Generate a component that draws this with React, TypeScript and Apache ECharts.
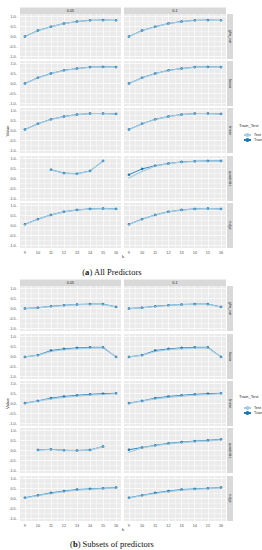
import React, { useEffect, useRef } from "react";
import * as echarts from "echarts";

// ---------- data ----------
const kValues = [9, 10, 11, 12, 13, 14, 15, 16];
const columnLabels = ["0.05", "0.1"];
const rowLabels = ["glm_cor", "lasso", "linear", "quadratic", "ridge"];
const legendTitle = "Train_Test";
const seriesNames = ["Test", "Train"];
const captionA = ["a", ") All Predictors"];
const captionB = ["b", ") Subsets of predictors"];

// (a) All predictors
const aGlmCorTrain = [0.0, 0.3, 0.49, 0.65, 0.75, 0.81, 0.82, 0.81];
const aGlmCorTest = [0.0, 0.29, 0.48, 0.64, 0.74, 0.8, 0.81, 0.8];
const aLassoTrain = [0.0, 0.29, 0.5, 0.66, 0.75, 0.82, 0.83, 0.82];
const aLassoTest = [-0.01, 0.28, 0.49, 0.65, 0.74, 0.81, 0.82, 0.81];
const aLinearTrain = [0.05, 0.34, 0.56, 0.7, 0.8, 0.85, 0.85, 0.83];
const aLinearTest = [0.04, 0.33, 0.55, 0.69, 0.79, 0.84, 0.84, 0.82];
const aQuadLeftTrain = [null, null, 0.44, 0.27, 0.24, 0.38, 0.88, null];
const aQuadLeftTest = [null, null, 0.43, 0.26, 0.23, 0.37, 0.87, null];
const aQuadRightTrain = [0.19, 0.48, 0.64, 0.75, 0.83, 0.86, 0.88, 0.88];
const aQuadRightTest = [0.03, 0.35, 0.62, 0.74, 0.82, 0.85, 0.87, 0.87];
const aRidgeTrain = [0.06, 0.32, 0.53, 0.69, 0.78, 0.83, 0.85, 0.83];
const aRidgeTest = [0.05, 0.31, 0.52, 0.68, 0.77, 0.82, 0.84, 0.82];

// (b) Subsets of predictors
const bGlmCorTrain = [0.0, 0.04, 0.11, 0.16, 0.2, 0.22, 0.22, 0.08];
const bGlmCorTest = [-0.01, 0.03, 0.1, 0.15, 0.19, 0.21, 0.21, 0.07];
const bLassoTrain = [-0.02, 0.07, 0.3, 0.38, 0.43, 0.46, 0.46, -0.02];
const bLassoTest = [-0.02, 0.06, 0.25, 0.34, 0.39, 0.42, 0.43, -0.03];
const bLinearTrain = [0.02, 0.13, 0.27, 0.35, 0.41, 0.46, 0.49, 0.51];
const bLinearTest = [0.01, 0.12, 0.23, 0.31, 0.37, 0.42, 0.45, 0.49];
const bQuadLeftTrain = [null, 0.03, 0.06, 0.01, 0.0, 0.03, 0.2, null];
const bQuadLeftTest = [null, 0.02, 0.05, 0.0, -0.01, 0.02, 0.19, null];
const bQuadRightTrain = [0.04, 0.15, 0.26, 0.36, 0.42, 0.47, 0.51, 0.56];
const bQuadRightTest = [-0.09, 0.13, 0.24, 0.33, 0.39, 0.44, 0.48, 0.53];
const bRidgeTrain = [0.04, 0.16, 0.28, 0.37, 0.45, 0.48, 0.51, 0.55];
const bRidgeTest = [0.02, 0.14, 0.25, 0.34, 0.42, 0.46, 0.49, 0.53];

type Pair = { Test: (number | null)[]; Train: (number | null)[] };
type Row = [Pair, Pair];

const figureA: Row[] = [
  [{ Test: aGlmCorTest, Train: aGlmCorTrain }, { Test: aGlmCorTest, Train: aGlmCorTrain }],
  [{ Test: aLassoTest, Train: aLassoTrain }, { Test: aLassoTest, Train: aLassoTrain }],
  [{ Test: aLinearTest, Train: aLinearTrain }, { Test: aLinearTest, Train: aLinearTrain }],
  [{ Test: aQuadLeftTest, Train: aQuadLeftTrain }, { Test: aQuadRightTest, Train: aQuadRightTrain }],
  [{ Test: aRidgeTest, Train: aRidgeTrain }, { Test: aRidgeTest, Train: aRidgeTrain }],
];
const figureB: Row[] = [
  [{ Test: bGlmCorTest, Train: bGlmCorTrain }, { Test: bGlmCorTest, Train: bGlmCorTrain }],
  [{ Test: bLassoTest, Train: bLassoTrain }, { Test: bLassoTest, Train: bLassoTrain }],
  [{ Test: bLinearTest, Train: bLinearTrain }, { Test: bLinearTest, Train: bLinearTrain }],
  [{ Test: bQuadLeftTest, Train: bQuadLeftTrain }, { Test: bQuadRightTest, Train: bQuadRightTrain }],
  [{ Test: bRidgeTest, Train: bRidgeTrain }, { Test: bRidgeTest, Train: bRidgeTrain }],
];

// ---------- layout / style ----------
const W = 262;
const H = 550;
const colX = [20, 124];
const colW = [101, 102];
const rowTopsA = [14, 61, 108, 156, 203];
const rowTopsB = [286, 334, 381, 428, 476];
const panelH = 45;
const stripH = 6.5;
const rightStripX = 227;
const rightStripW = 6;
const colors = { Test: "#A6CEE3", Train: "#1F78B4" };
const panelBg = "#EBEBEB";
const stripBg = "#D9D9D9";
const sans = "Liberation Sans, Arial, sans-serif";
const serif = "Liberation Serif, DejaVu Serif, serif";
const T = "rgba(0,0,0,0)";
const MAJ = "#FFFFFF";
const MIN = "rgba(255,255,255,0.6)";

function buildOption() {
  const grid: any[] = [];
  const xAxis: any[] = [];
  const yAxis: any[] = [];
  const series: any[] = [];
  const graphic: any[] = [];

  const figures = [
    { rows: figureA, tops: rowTopsA, caption: captionA, captionY: 272, legendTop: 128, legendTitleY: 125 },
    { rows: figureB, tops: rowTopsB, caption: captionB, captionY: 544, legendTop: 401, legendTitleY: 396 },
  ];

  figures.forEach((fig) => {
    columnLabels.forEach((lab, c) => {
      graphic.push({
        type: "rect",
        shape: { x: colX[c], y: fig.tops[0] - stripH, width: colW[c], height: stripH },
        style: { fill: stripBg },
        silent: true,
      });
      graphic.push({
        type: "text",
        x: colX[c] + colW[c] / 2,
        y: fig.tops[0] - stripH / 2,
        style: { text: lab, fill: "#1A1A1A", font: `3.8px ${sans}`, align: "center", verticalAlign: "middle" },
        silent: true,
      });
    });

    fig.rows.forEach((row, r) => {
      const top = fig.tops[r];
      graphic.push({
        type: "rect",
        shape: { x: rightStripX, y: top, width: rightStripW, height: panelH },
        style: { fill: stripBg },
        silent: true,
      });
      graphic.push({
        type: "text",
        x: rightStripX + rightStripW / 2,
        y: top + panelH / 2,
        rotation: -Math.PI / 2,
        style: { text: rowLabels[r], fill: "#1A1A1A", font: `3.8px ${sans}`, align: "center", verticalAlign: "middle" },
        silent: true,
      });

      row.forEach((pair, c) => {
        const gi = grid.length;
        const isBottom = r === fig.rows.length - 1;
        const isLeft = c === 0;
        grid.push({
          left: colX[c],
          top,
          width: colW[c],
          height: panelH,
          show: true,
          backgroundColor: panelBg,
          borderWidth: 0,
        });
        xAxis.push({
          gridIndex: gi,
          type: "value",
          min: 8.625,
          max: 16.375,
          interval: 0.125,
          axisLine: { show: false },
          axisTick: { show: false },
          splitLine: { show: true, lineStyle: { color: [T, T, T, MAJ, T, T, T, MIN], width: 0.7 } },
          axisLabel: {
            show: isBottom,
            fontSize: 3.8,
            color: "#4D4D4D",
            fontFamily: sans,
            margin: 2.5,
            formatter: (v: number) => (Number.isInteger(v) ? String(v) : ""),
          },
        });
        yAxis.push({
          gridIndex: gi,
          type: "value",
          min: -1.125,
          max: 1.125,
          interval: 0.125,
          axisLine: { show: false },
          axisTick: { show: false },
          splitLine: { show: true, lineStyle: { color: [T, MAJ, T, MIN], width: 0.7 } },
          axisLabel: {
            show: isLeft,
            fontSize: 3.8,
            color: "#4D4D4D",
            fontFamily: sans,
            margin: 3,
            formatter: (v: number) =>
              Math.abs(v * 2 - Math.round(v * 2)) < 1e-9 ? v.toFixed(1) + "-" : "",
          },
        });
        (["Train", "Test"] as const).forEach((name) => {
          const vals = pair[name];
          series.push({
            type: "line",
            name,
            xAxisIndex: gi,
            yAxisIndex: gi,
            data: kValues.map((k, j) => [k, vals[j]]),
            connectNulls: false,
            symbol: "circle",
            symbolSize: name === "Train" ? 2.6 : 1.3,
            showSymbol: true,
            lineStyle: { width: name === "Test" ? 1.2 : 0.9, color: colors[name] },
            itemStyle: { color: colors[name] },
            emphasis: { disabled: true },
            silent: true,
          });
        });
      });
    });

    const midY = (fig.tops[0] + fig.tops[4] + panelH) / 2;
    graphic.push({
      type: "text",
      x: 7,
      y: midY,
      rotation: Math.PI / 2,
      style: { text: "Value", fill: "#1A1A1A", font: `4.4px ${sans}`, align: "center", verticalAlign: "middle" },
      silent: true,
    });
    graphic.push({
      type: "text",
      x: (colX[0] + colX[1] + colW[1]) / 2,
      y: fig.tops[4] + panelH + 8,
      style: { text: "k", fill: "#1A1A1A", font: `4.4px ${sans}`, align: "center", verticalAlign: "middle" },
      silent: true,
    });
    graphic.push({
      type: "text",
      x: 239,
      y: fig.legendTitleY,
      style: { text: legendTitle, fill: "#1A1A1A", font: `4.2px ${sans}`, align: "left", verticalAlign: "middle" },
      silent: true,
    });
    graphic.push({
      type: "text",
      x: 112,
      y: fig.captionY,
      style: {
        text: `{n|(}{b|${fig.caption[0]}}{n|${fig.caption[1]}}`,
        align: "center",
        verticalAlign: "middle",
        rich: {
          n: { fontFamily: serif, fontSize: 8.5, fill: "#111" },
          b: { fontFamily: serif, fontSize: 8.5, fontWeight: "bold", fill: "#111" },
        },
      },
      silent: true,
    });
  });

  const legend = figures.map((fig) => ({
    data: seriesNames,
    orient: "vertical",
    left: 238,
    top: fig.legendTop,
    itemWidth: 7,
    itemHeight: 5,
    itemGap: 1,
    selectedMode: false,
    textStyle: { fontSize: 3.8, color: "#1A1A1A", fontFamily: sans, padding: [0, 0, 0, -2] },
  }));

  return {
    animation: false,
    backgroundColor: "#FFFFFF",
    grid,
    xAxis,
    yAxis,
    series,
    legend,
    graphic,
  };
}

export default function App() {
  const ref = useRef<HTMLDivElement>(null);
  useEffect(() => {
    if (!ref.current) return;
    const chart = echarts.init(ref.current, undefined, { renderer: "svg", width: W, height: H });
    chart.setOption(buildOption() as any);
    return () => chart.dispose();
  }, []);
  return <div ref={ref} style={{ position: "absolute", left: 0, top: 0, width: W, height: H }} />;
}
